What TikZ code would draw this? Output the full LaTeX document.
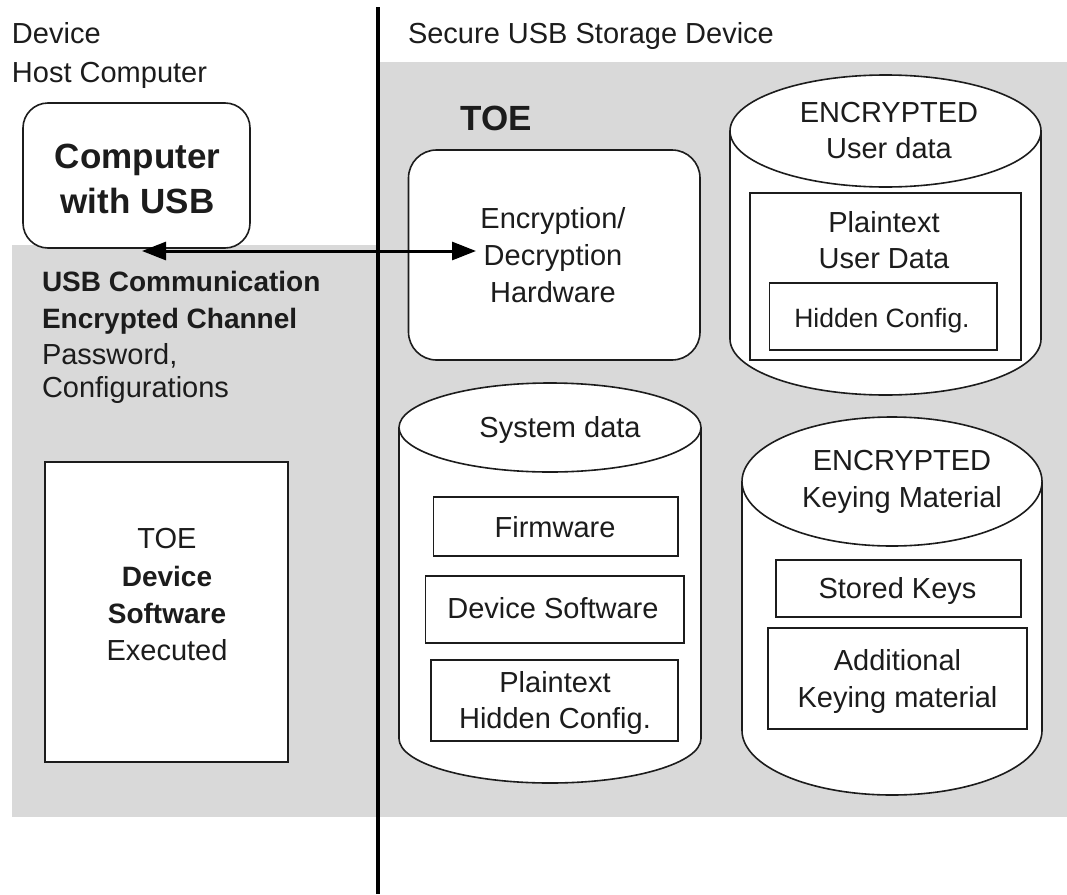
\documentclass[tikz,border=0pt]{standalone}
\usepackage{fontspec}
\setmainfont{Liberation Sans}
\usetikzlibrary{arrows.meta}
\definecolor{bg}{HTML}{D9D9D9}
\definecolor{ink}{HTML}{1C1C1C}
\newcommand{\fbody}{\fontsize{29pt}{35pt}\selectfont}
\newcommand{\fsmallbody}{\fontsize{26.5pt}{32pt}\selectfont}
\newcommand{\fboldbody}{\fontsize{28pt}{34pt}\selectfont\bfseries}
\newcommand{\fbig}{\fontsize{35pt}{42pt}\selectfont\bfseries}
\newcommand{\drawcyl}[6]{%
  \filldraw[cylline] (#1,#3) -- (#1,#4) arc[start angle=180,end angle=360,x radius=#5pt,y radius=#6pt]
    -- (#2,#3) arc[start angle=0,end angle=180,x radius=#5pt,y radius=#6pt] -- cycle;
  \draw[cylline] (#1,#3) arc[start angle=180,end angle=360,x radius=#5pt,y radius=#6pt];
}
\begin{document}
\begin{tikzpicture}[x=1pt,y=-1pt,
  txt/.style={inner sep=0pt,outer sep=0pt,anchor=base,text=ink,font=\fbody},
  txtl/.style={txt,anchor=base west},
  boldtxt/.style={txt,font=\fboldbody},
  bigtxt/.style={txt,font=\fbig},
  rbox/.style={draw=ink,fill=white,line width=1.6pt,rounded corners=27pt,inner sep=0pt},
  sbox/.style={draw=ink,fill=white,line width=1.6pt,inner sep=0pt},
  cylline/.style={draw=ink,fill=white,line width=1.6pt},
  conn/.style={draw=black,line width=3pt,{Triangle[length=24pt,width=18pt]}-{Triangle[length=24pt,width=18pt]}}]
\useasboundingbox (0,0) rectangle (1067,894);
% background regions
\fill[bg] (380,62) rectangle (1067,817);
\fill[bg] (12,245) rectangle (380,817);
% divider
\draw[line width=3.5pt,black] (378,7) -- (378,894);
% headings
\node[txtl] (hdev) at (12,43) {Device};
\node[txtl] (hhost) at (12,82) {Host Computer};
\node[txtl] (hsec) at (408,43) {Secure USB Storage Device};
% computer box
\node[rbox,rounded corners=25pt,minimum width=227pt,minimum height=145pt] (comp) at (136.5,175.5) {};
\node[bigtxt] (comp1) at (137.5,168) {Computer};
\node[bigtxt] (comp2) at (137.5,213) {with USB};
% channel text
\node[boldtxt,anchor=base west] (ch1) at (42,291) {USB Communication};
\node[boldtxt,anchor=base west] (ch2) at (42,328) {Encrypted Channel};
\node[txtl] (ch3) at (42,364) {Password,};
\node[txtl] (ch4) at (42,397) {Configurations};
% TOE device software box
\node[sbox,minimum width=243pt,minimum height=300pt] (sw) at (166.5,612) {};
\node[txt] (sw1) at (167,548) {TOE};
\node[boldtxt] (sw2) at (167,586) {Device};
\node[boldtxt] (sw3) at (167,623) {Software};
\node[txt] (sw4) at (167,660) {Executed};
% TOE label
\node[bigtxt] (toe) at (496,130) {TOE};
% hardware
\node[rbox,rounded corners=28pt,minimum width=291.5pt,minimum height=210pt] (hw) at (554.25,255) {};
\node[txt] (hw1) at (553,228) {Encryption/};
\node[txt] (hw2) at (553,265) {Decryption};
\node[txt] (hw3) at (553,302) {Hardware};
% arrow
\coordinate (arrL) at (142,251);
\coordinate (arrR) at (476,251);
\draw[conn] (arrL) -- (arrR);
% cylinder: user data
\drawcyl{730}{1041}{131}{339}{155.5}{56}
\node[txt] (ud1) at (889,122) {ENCRYPTED};
\node[txt] (ud2) at (889,158) {User data};
\node[sbox,minimum width=271pt,minimum height=167pt] (pud) at (885.5,276.5) {};
\node[txt] (pud1) at (884,232) {Plaintext};
\node[txt] (pud2) at (884,268) {User Data};
\node[sbox,minimum width=227.5pt,minimum height=67pt] (hc) at (883.25,316.5) {};
\node[txt,font=\fsmallbody] (hc1) at (882,327) {Hidden Config.};
% cylinder: system data
\drawcyl{399}{701}{427.5}{738.5}{151}{44.5}
\node[txt] (sd) at (560,437) {System data};
\node[sbox,minimum width=244.5pt,minimum height=59pt] (fw) at (555.75,526.5) {};
\node[txt] (fw1) at (555,537) {Firmware};
\node[sbox,minimum width=258.4pt,minimum height=67pt] (ds) at (554.8,609.5) {};
\node[txt] (ds1) at (553,618) {Device Software};
\node[sbox,minimum width=247pt,minimum height=81pt] (ph) at (554.5,700.5) {};
\node[txt] (ph1) at (555,692) {Plaintext};
\node[txt] (ph2) at (555,728) {Hidden Config.};
% cylinder: keying material
\drawcyl{742}{1042}{481.5}{730.5}{150}{64.5}
\node[txt] (km1) at (902,470) {ENCRYPTED};
\node[txt] (km2) at (902,507) {Keying Material};
\node[sbox,minimum width=245pt,minimum height=57pt] (sk) at (898.5,588.5) {};
\node[txt] (sk1) at (897.5,598) {Stored Keys};
\node[sbox,minimum width=259pt,minimum height=101pt] (ak) at (897.5,678.5) {};
\node[txt] (ak1) at (897.5,670) {Additional};
\node[txt] (ak2) at (897.5,707) {Keying material};
\end{tikzpicture}
\end{document}
